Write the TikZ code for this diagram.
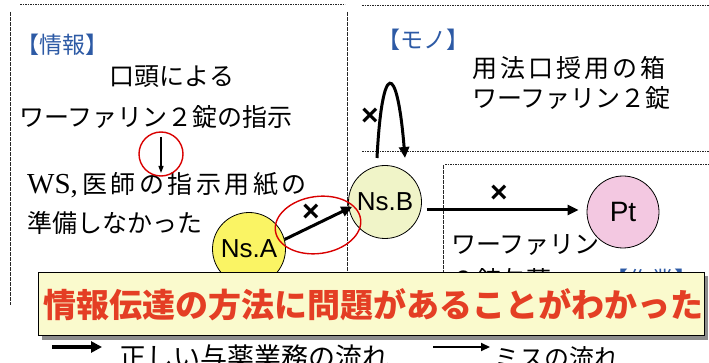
\documentclass[tikz,border=0pt]{standalone}
\usepackage{fontspec}
\setmainfont{Noto Sans CJK JP}
\newfontfamily\latinsans{Liberation Sans}
\newfontfamily\latinserif{Liberation Serif}
\usetikzlibrary{arrows.meta,shapes.geometric}
\definecolor{brblue}{RGB}{45,90,165}
\definecolor{banred}{RGB}{228,62,36}
\definecolor{banfill}{RGB}{250,250,205}
\definecolor{yelA}{RGB}{250,244,100}
\definecolor{yelB}{RGB}{240,244,200}
\definecolor{pinkP}{RGB}{243,200,225}
\begin{document}
\begin{tikzpicture}[x=1pt,y=-1pt,
  boxline/.style={draw=black!85,line width=1pt,dash pattern=on 1.6pt off 0.9pt},
  jtxt/.style={font=\fontsize{25}{30}\selectfont,inner sep=0pt},
  brtxt/.style={font=\fontsize{23}{28}\selectfont,text=brblue,inner sep=0pt},
  person/.style={circle,draw=black,line width=0.8pt,minimum size=73pt,inner sep=0pt,font=\latinsans\fontsize{26}{30}\selectfont},
  arr/.style={line width=3pt,-{Triangle[length=11pt,width=10pt]}},
  xmark/.style={font=\latinsans\bfseries\fontsize{30}{32}\selectfont,inner sep=0pt},
  redring/.style={draw=red!85!black,line width=1.4pt}]
\useasboundingbox (0,0) rectangle (709,363);
\fill[white] (0,0) rectangle (709,363);
% dotted frames
\draw[boxline] (20,5) -- (345,5);
\draw[boxline] (10,12) -- (10,305);
\draw[boxline] (347,12) -- (347,290);
\draw[boxline] (362,6) -- (709,6);
\draw[boxline] (362,152) -- (709,152);
\draw[boxline] (445,165) -- (709,165);
\draw[boxline] (443,165) -- (443,290);
% info box texts
\node[brtxt,anchor=west] (hinfo) at (16,45) {【情報】};
\node[jtxt] (oral) at (172,77) {口頭による};
\node[jtxt,anchor=west] (order) at (19,117) {ワーファリン２錠の指示};
\node[jtxt,anchor=west] (ws) at (27,185) {{\latinserif\fontsize{29}{30}\selectfont WS,}\,{\addfontfeatures{LetterSpace=14}医師の指示用紙の}};
\node[jtxt,anchor=west] (prep) at (27,223) {準備しなかった};
\coordinate (d1) at (161,137);
\coordinate (d2) at (161,173);
\draw[line width=1.2pt,-{Triangle[length=7pt,width=5pt]}] (d1) -- (d2);
\node[redring,circle,minimum size=44pt,inner sep=0pt] (ring1) at (161,154) {};
% mono box texts
\node[brtxt,anchor=west] (hmono) at (377,40) {【モノ】};
\node[jtxt,anchor=west] (box1) at (472,68) {\addfontfeatures{LetterSpace=12}用法口授用の箱};
\node[jtxt,anchor=west] (box2) at (472,98) {ワーファリン２錠};
% work box texts
\node[jtxt,anchor=west] (w1) at (451,245) {ワーファリン};
\node[jtxt,anchor=west] (w2) at (451,280) {２錠与薬};
\node[brtxt,anchor=west] (hwork) at (605,280) {【作業】};
% persons
\node[person,fill=yelA] (nsa) at (249,249) {Ns.A};
\node[person,fill=yelB] (nsb) at (385,202) {Ns.B};
\node[person,fill=pinkP,minimum size=72pt,font=\latinsans\fontsize{28}{30}\selectfont] (pt) at (623,212) {Pt};
% connectors
\draw[arr,shorten >=-4pt] (nsa.15) -- (nsb.190);
\node[xmark] (xa) at (311,213) {×};
\node[redring,ellipse,minimum width=86pt,minimum height=57pt,rotate=8,inner sep=0pt] (ring2) at (318,225) {};
\draw[arr] ([shift={(5,8)}]nsb.east) -- ([shift={(-8,-2)}]pt.west);
\node[xmark] (xb) at (499,194) {×};
\coordinate (l1) at (377,158);
\coordinate (l2) at (405,158);
\draw[arr] (l1) .. controls (382,60) and (397,60) .. (l2);
\node[xmark] (xc) at (370,117) {×};
% banner
\fill[black!45] (42,276) rectangle (708,340);
\node[draw=black,line width=1.2pt,fill=banfill,minimum width=666pt,minimum height=63pt,inner sep=0pt,anchor=north west] (banner) at (38,272) {};
\node[font=\bfseries\fontsize{33}{38}\selectfont,text=banred,inner sep=0pt] (msg) at (373,305) {情報伝達の方法に問題があることがわかった};
% legend
\coordinate (la1) at (52,347);
\coordinate (la2) at (102,347);
\draw[line width=3.5pt,-{Triangle[length=11pt,width=11pt]}] (la1) -- (la2);
\node[font=\fontsize{27}{30}\selectfont,inner sep=0pt,anchor=base west] (leg1) at (119,367) {正しい与薬業務の流れ};
\coordinate (lb1) at (433,347);
\coordinate (lb2) at (490,347);
\draw[line width=2.2pt,-{Triangle[length=9pt,width=8pt]}] (lb1) -- (lb2);
\node[font=\fontsize{25}{30}\selectfont,inner sep=0pt,anchor=base west] (leg2) at (494,367) {ミスの流れ};
\end{tikzpicture}
\end{document}
